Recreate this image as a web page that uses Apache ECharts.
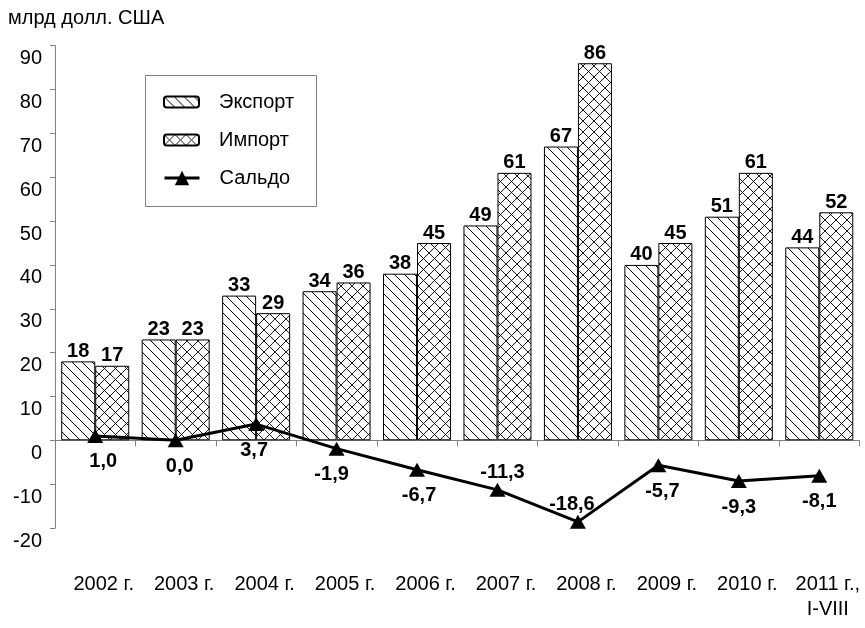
<!DOCTYPE html>
<html>
<head>
<meta charset="utf-8">
<script src="https://cdn.jsdelivr.net/npm/echarts@6/dist/echarts.min.js"></script>
<style>
html,body{margin:0;padding:0;background:#fff;}
#chart{width:865px;height:628px;}
</style>
</head>
<body>
<div id="chart"></div>
<script>
// ---- data ----
const categories = ['2002 г.', '2003 г.', '2004 г.', '2005 г.', '2006 г.', '2007 г.', '2008 г.', '2009 г.', '2010 г.', '2011 г.,\nI-VIII'];
const exportValues = [18, 23, 33, 34, 38, 49, 67, 40, 51, 44];
const importValues = [17, 23, 29, 36, 45, 61, 86, 45, 61, 52];
const saldoValues = [1.0, 0.0, 3.7, -1.9, -6.7, -11.3, -18.6, -5.7, -9.3, -8.1];
const yAxisTitle = 'млрд долл. США';
const seriesNames = ['Экспорт', 'Импорт', 'Сальдо'];

// ---- styling ----
const FONT = "'Liberation Sans', Arial, sans-serif";
const saldoLabelSide = ['bottom', 'bottom', 'bottom', 'bottom', 'bottom', 'top', 'top', 'bottom', 'bottom', 'bottom'];
const saldoLabelShiftX = [8, 4, -2, -5, 2, 5, -6, 4, 0, 0];

function hatchTile() {
  const s = 10;
  const c = document.createElement('canvas');
  c.width = s; c.height = s;
  const ctx = c.getContext('2d');
  ctx.fillStyle = '#fff';
  ctx.fillRect(0, 0, s, s);
  ctx.strokeStyle = '#000';
  ctx.lineWidth = 1;
  ctx.beginPath();
  for (const k of [-s, 0, s]) {
    ctx.moveTo(k, 0);
    ctx.lineTo(k + s, s);
  }
  ctx.stroke();
  return c;
}
function crossTile() {
  const s = 11;
  const c = document.createElement('canvas');
  c.width = s; c.height = s;
  const ctx = c.getContext('2d');
  ctx.fillStyle = '#fff';
  ctx.fillRect(0, 0, s, s);
  ctx.strokeStyle = '#000';
  ctx.lineWidth = 0.9;
  ctx.beginPath();
  for (const k of [-s, 0, s]) {
    ctx.moveTo(k, 0); ctx.lineTo(k + s, s);
    ctx.moveTo(k + s, 0); ctx.lineTo(k, s);
  }
  ctx.stroke();
  return c;
}

const chart = echarts.init(document.getElementById('chart'), null, {renderer: 'canvas'});

const barLabel = {
  show: true,
  position: 'top',
  distance: 0,
  color: '#000',
  fontFamily: FONT,
  fontWeight: 'bold',
  fontSize: 20
};

const legendText = {fontSize: 20, fontFamily: FONT, color: '#000', padding: [0, 0, 0, 15]};

const option = {
  backgroundColor: '#fff',
  animation: false,
  textStyle: {fontFamily: FONT, color: '#000'},
  graphic: [{
    type: 'text',
    left: 8,
    top: 8,
    z: 10,
    style: {text: yAxisTitle, font: '20px ' + FONT, fill: '#000'}
  }, {
    type: 'rect',
    left: 145,
    top: 75,
    z: 3,
    shape: {width: 171, height: 131},
    style: {fill: '#fff', stroke: '#808080', lineWidth: 1}
  }],
  legend: [{
    orient: 'vertical',
    left: 145,
    top: 75,
    z: 5,
    padding: [17, 21, 0, 18],
    itemGap: 18,
    itemWidth: 35,
    itemHeight: 11,
    textStyle: legendText,
    data: [seriesNames[0], seriesNames[1]]
  }, {
    orient: 'vertical',
    left: 145,
    top: 168,
    z: 5,
    padding: [0, 21, 0, 18],
    itemWidth: 35,
    itemHeight: 18,
    lineStyle: {width: 3, color: '#000'},
    textStyle: legendText,
    data: [seriesNames[2]]
  }],
  grid: {left: 55, right: 5.5, top: 45.7, bottom: 100, containLabel: false},
  xAxis: [{
    type: 'category',
    data: categories,
    axisLine: {show: true, onZero: true, lineStyle: {color: '#808080', width: 1}},
    axisTick: {show: true, length: 6, lineStyle: {color: '#808080'}},
    axisLabel: {show: false},
    splitLine: {show: false}
  }, {
    type: 'category',
    data: categories,
    position: 'bottom',
    axisLine: {show: false, onZero: false},
    axisTick: {show: false},
    axisLabel: {
      show: true,
      interval: 0,
      margin: 44,
      fontSize: 20,
      lineHeight: 25,
      color: '#000',
      fontFamily: FONT,
      padding: [0, 0, 0, 17]
    },
    splitLine: {show: false}
  }],
  yAxis: {
    type: 'value',
    min: -20,
    max: 90,
    interval: 10,
    axisLine: {show: true, lineStyle: {color: '#808080', width: 1}},
    axisTick: {show: true, length: 5, inside: false, lineStyle: {color: '#808080'}},
    axisLabel: {
      margin: 13,
      fontSize: 20,
      color: '#000',
      fontFamily: FONT,
      verticalAlign: 'top',
      padding: [3, 0, 0, 0]
    },
    splitLine: {show: false}
  },
  series: [{
    name: seriesNames[0],
    type: 'bar',
    xAxisIndex: 0,
    data: exportValues,
    barWidth: 34,
    barGap: '0%',
    itemStyle: {color: {image: hatchTile(), repeat: 'repeat'}, borderColor: '#000', borderWidth: 1},
    label: barLabel
  }, {
    name: seriesNames[1],
    type: 'bar',
    xAxisIndex: 0,
    data: importValues,
    barWidth: 34,
    barGap: '0%',
    itemStyle: {color: {image: crossTile(), repeat: 'repeat'}, borderColor: '#000', borderWidth: 1},
    label: barLabel
  }, {
    name: seriesNames[2],
    type: 'line',
    xAxisIndex: 0,
    z: 5,
    data: saldoValues.map((v, i) => ({
      value: v,
      label: {
        position: saldoLabelSide[i],
        distance: saldoLabelSide[i] === 'top' ? 0 : 9,
        offset: [saldoLabelShiftX[i], 0]
      }
    })),
    symbol: 'triangle',
    symbolSize: [16, 14],
    lineStyle: {color: '#000', width: 3},
    itemStyle: {color: '#000'},
    label: {
      show: true,
      color: '#000',
      fontFamily: FONT,
      fontWeight: 'bold',
      fontSize: 20,
      formatter: p => p.value.toFixed(1).replace('.', ',')
    }
  }]
};
chart.setOption(option);
</script>
</body>
</html>
